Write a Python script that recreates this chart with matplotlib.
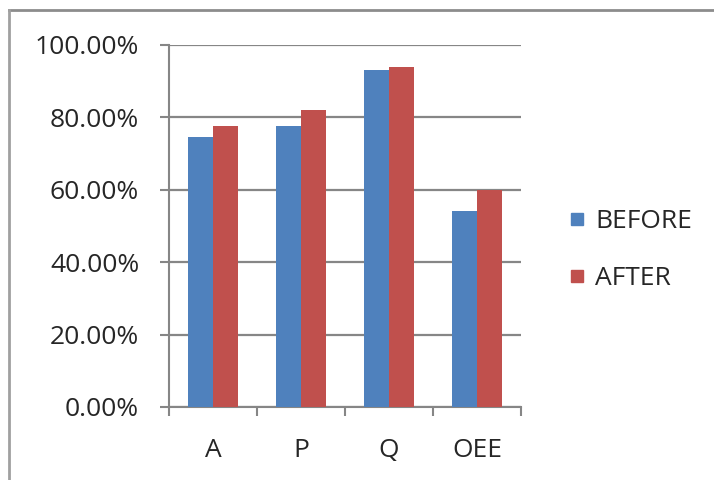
import matplotlib
matplotlib.use("Agg")
import matplotlib.pyplot as plt
from matplotlib.lines import Line2D
from matplotlib.ticker import FuncFormatter
import numpy as np

categorias = ["A", "P", "Q", "OEE"]
antes = [74.7, 77.6, 93.1, 54.1]
despues = [77.6, 82.0, 94.0, 59.9]
series = ["BEFORE", "AFTER"]

azul = "#4F81BD"
rojo = "#C0504D"
gris = "#868686"
texto = "#262626"
tam = 19

plt.rcParams["font.family"] = ["Open Sans", "DejaVu Sans"]

fig = plt.figure(figsize=(7.14, 4.8), dpi=100)
ax = fig.add_axes([169 / 714, 73 / 480, 352 / 714, 362 / 480])

x = np.arange(len(categorias))
ancho = 0.285
ax.bar(x - ancho / 2, antes, ancho, color=azul, label=series[0], zorder=3)
ax.bar(x + ancho / 2, despues, ancho, color=rojo, label=series[1], zorder=3)

ax.set_xlim(-0.5, len(categorias) - 0.5)
ax.set_ylim(0, 100)
ax.set_yticks(np.arange(0, 101, 20))
ax.yaxis.set_major_formatter(FuncFormatter(lambda v, p: f"{v:.2f}%"))
ax.grid(axis="y", color=gris, linewidth=1.6, zorder=0)

# etiquetas en el centro, marcas en los limites de cada categoria
ax.set_xticks(x)
ax.set_xticklabels(categorias)
ax.set_xticks(np.arange(-0.5, len(categorias)), minor=True)
ax.tick_params(axis="x", which="major", length=0, pad=22, labelsize=tam, colors=texto)
ax.tick_params(axis="x", which="minor", length=6.5, width=1.5, color=gris)
ax.tick_params(axis="y", length=6.5, width=1.5, color=gris, pad=15, labelsize=tam, labelcolor=texto)

for lado in ["top", "right"]:
    ax.spines[lado].set_visible(False)
for lado in ["left", "bottom"]:
    ax.spines[lado].set_color(gris)
    ax.spines[lado].set_linewidth(1.5)

handles = [Line2D([], [], marker="s", linestyle="none", markersize=8.5, color=c) for c in (azul, rojo)]
fig.legend(handles, series, loc="center left", bbox_to_anchor=(540 / 714, 1 - 250 / 480),
           frameon=False, fontsize=tam, handletextpad=0.2, labelspacing=1.2, handlelength=1.0,
           labelcolor=texto)

# borde exterior del grafico
fig.add_artist(Line2D([9 / 714, 1], [1 - 10 / 480] * 2, color="#8c8c8c", linewidth=2))
fig.add_artist(Line2D([9 / 714] * 2, [0, 1 - 10 / 480], color="#a0a0a0", linewidth=2))

fig.savefig("out.png", dpi=100)
